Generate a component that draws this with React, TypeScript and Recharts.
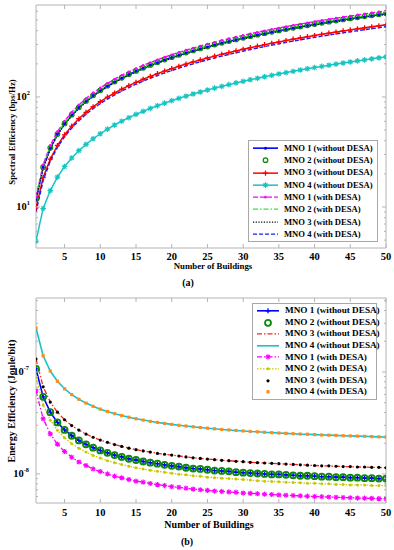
import React from 'react';
import { LineChart, Line, XAxis, YAxis, Legend, ReferenceArea } from 'recharts';

// ---------- data ----------
const buildings = [
  1, 2, 3, 4, 5, 6, 7, 8, 9, 10, 11, 12, 13, 14, 15, 16, 17, 18, 19, 20, 21, 22, 23, 24, 25,
  26, 27, 28, 29, 30, 31, 32, 33, 34, 35, 36, 37, 38, 39, 40, 41, 42, 43, 44, 45, 46, 47, 48, 49, 50,
];

// Spectral efficiency (bps/Hz)
const seMno1Without = [11.6, 23, 34, 46, 57, 68, 80, 91, 103, 114, 125, 137, 148, 160, 171, 182, 194, 205, 217, 228, 239, 251, 262, 274, 285, 296, 308, 319, 331, 342, 353, 365, 376, 388, 399, 410, 422, 433, 445, 456, 467, 479, 490, 502, 513, 524, 536, 547, 559, 570];
const seMno2Without = [11.8, 23, 34.5, 46, 57.5, 69, 80.5, 92, 103.5, 115, 126.5, 138, 149.5, 161, 172.5, 184, 195.5, 207, 218.5, 230, 241.5, 253, 264.5, 276, 287.5, 299, 310.5, 322, 333.5, 345, 356.5, 368, 379.5, 391, 402.5, 414, 425.5, 437, 448.5, 460, 471.5, 483, 494.5, 506, 517.5, 529, 540.5, 552, 563.5, 575];
const seMno3Without = [9.8, 18.5, 27.2, 36.2, 45.3, 54.3, 63.4, 72.4, 81.5, 90.5, 99.6, 108.6, 117.7, 126.7, 135.8, 144.8, 153.9, 162.9, 172, 181, 190, 199, 208, 217, 226, 235, 244, 253, 262, 271.5, 280.5, 289.5, 298.5, 307.5, 316.5, 326, 335, 344, 353, 362, 371, 380, 389, 398, 407, 416, 425, 434, 443, 452];
const seMno4Without = [4.9, 9.7, 14.1, 18.7, 23.3, 27.9, 32.5, 37.1, 41.7, 46.3, 51, 55.6, 60.2, 64.8, 69.4, 74, 78.7, 83.3, 87.9, 92.5, 97.2, 101.8, 106.4, 111, 115.7, 120.3, 124.9, 129.5, 134.2, 138.8, 143.4, 148, 152.6, 157.3, 161.9, 166.5, 171.1, 175.7, 180.4, 185, 189.6, 194.2, 198.9, 203.5, 208.1, 212.7, 217.3, 222, 226.6, 231.2];
const seMno1With = [12.3, 24.2, 36.3, 48.4, 60.5, 72.6, 84.7, 96.8, 108.9, 121, 133.1, 145.2, 157.3, 169.4, 181.5, 193.6, 205.7, 217.8, 229.9, 242, 254.1, 266.2, 278.3, 290.4, 302.5, 314.6, 326.7, 338.8, 350.9, 363, 375.1, 387.2, 399.3, 411.4, 423.5, 435.6, 447.7, 459.8, 471.9, 484, 496.1, 508.2, 520.3, 532.4, 544.5, 556.6, 568.7, 580.8, 592.9, 605];
const seMno2With = [11.9, 23.2, 34.8, 46.4, 58, 69.6, 81.2, 92.8, 104.4, 116, 127.6, 139.2, 150.8, 162.4, 174, 185.6, 197.2, 208.8, 220.4, 232, 243.6, 255.2, 266.8, 278.4, 290, 301.6, 313.2, 324.8, 336.4, 348, 359.6, 371.2, 382.8, 394.4, 406, 417.6, 429.2, 440.8, 452.4, 464, 475.6, 487.2, 498.8, 510.4, 522, 533.6, 545.2, 556.8, 568.4, 580];
const seMno3With = [11.6, 22.4, 33.6, 44.8, 56, 67.2, 78.4, 89.6, 100.8, 112, 123.2, 134.4, 145.6, 156.8, 168, 179.2, 190.4, 201.6, 212.8, 224, 235.2, 246.4, 257.6, 268.8, 280, 291.2, 302.4, 313.6, 324.8, 336, 347.2, 358.4, 369.6, 380.8, 392, 403.2, 414.4, 425.6, 436.8, 448, 459.2, 470.4, 481.6, 492.8, 504, 515.2, 526.4, 537.6, 548.8, 560];
const seMno4With = [9.0, 17.4, 26.1, 34.8, 43.5, 52.2, 60.9, 69.6, 78.3, 87, 95.7, 104.4, 113.1, 121.8, 130.5, 139.2, 147.9, 156.6, 165.3, 174, 182.7, 191.4, 200.1, 208.8, 217.5, 226.2, 234.9, 243.6, 252.3, 261, 269.7, 278.4, 287.1, 295.8, 304.5, 313.2, 321.9, 330.6, 339.3, 348, 356.7, 365.4, 374.1, 382.8, 391.5, 400.2, 408.9, 417.6, 426.3, 435];

// Energy efficiency (in units of 1e-9 Joule/bit)
const eeMno1Without = [107, 57, 40.3, 32, 27, 23.7, 21.3, 19.5, 18.1, 17, 16.1, 15.3, 14.7, 14.1, 13.7, 13.25, 12.9, 12.6, 12.3, 12, 11.8, 11.5, 11.3, 11.2, 11, 10.8, 10.7, 10.6, 10.4, 10.3, 10.2, 10.1, 10, 9.9, 9.9, 9.8, 9.7, 9.6, 9.6, 9.5, 9.4, 9.4, 9.3, 9.3, 9.2, 9.2, 9.1, 9.1, 9.0, 9.0];
const eeMno2Without = [107, 57, 40.3, 32, 27, 23.7, 21.3, 19.5, 18.1, 17, 16.1, 15.3, 14.7, 14.1, 13.7, 13.25, 12.9, 12.6, 12.3, 12, 11.8, 11.5, 11.3, 11.2, 11, 10.8, 10.7, 10.6, 10.4, 10.3, 10.2, 10.1, 10, 9.9, 9.9, 9.8, 9.7, 9.6, 9.6, 9.5, 9.4, 9.4, 9.3, 9.3, 9.2, 9.2, 9.1, 9.1, 9.0, 9.0];
const eeMno3Without = [134, 71.5, 50.7, 40.3, 34, 29.8, 26.9, 24.6, 22.9, 21.5, 20.4, 19.4, 18.6, 17.9, 17.3, 16.8, 16.4, 15.9, 15.6, 15.3, 15, 14.7, 14.4, 14.2, 14, 13.8, 13.6, 13.5, 13.3, 13.2, 13, 12.9, 12.8, 12.7, 12.6, 12.5, 12.4, 12.3, 12.2, 12.1, 12.0, 12.0, 11.9, 11.8, 11.8, 11.7, 11.7, 11.6, 11.6, 11.5];
const eeMno4Without = [270, 144, 102, 81, 68.4, 60, 54, 49.5, 46, 43.2, 40.9, 39, 37.4, 36, 34.8, 33.75, 32.8, 32, 31.3, 30.6, 30, 29.5, 29, 28.5, 28.1, 27.7, 27.3, 27, 26.7, 26.4, 26.1, 25.9, 25.6, 25.4, 25.2, 25, 24.8, 24.6, 24.5, 24.3, 24.1, 24, 23.9, 23.7, 23.6, 23.5, 23.4, 23.25, 23.1, 23];
const eeMno1With = [65, 34.8, 24.7, 19.6, 16.6, 14.6, 13.1, 12.1, 11.2, 10.55, 10, 9.5, 9.15, 8.8, 8.5, 8.3, 8.06, 7.86, 7.7, 7.5, 7.4, 7.25, 7.1, 7.0, 6.9, 6.8, 6.74, 6.66, 6.6, 6.5, 6.45, 6.4, 6.33, 6.28, 6.23, 6.18, 6.14, 6.1, 6.05, 6.0, 5.98, 5.94, 5.9, 5.87, 5.84, 5.8, 5.79, 5.76, 5.73, 5.71];
const eeMno2With = [89, 47.5, 33.7, 26.75, 22.6, 19.8, 17.9, 16.4, 15.2, 14.3, 13.5, 12.9, 12.4, 11.9, 11.5, 11.2, 10.9, 10.6, 10.4, 10.15, 9.95, 9.8, 9.6, 9.5, 9.3, 9.2, 9.1, 9.0, 8.9, 8.8, 8.7, 8.6, 8.5, 8.45, 8.4, 8.3, 8.25, 8.2, 8.1, 8.1, 8.0, 8.0, 7.9, 7.9, 7.8, 7.8, 7.8, 7.7, 7.7, 7.7];
const eeMno3With = [134, 71.5, 50.7, 40.3, 34, 29.8, 26.9, 24.6, 22.9, 21.5, 20.4, 19.4, 18.6, 17.9, 17.3, 16.8, 16.4, 15.9, 15.6, 15.3, 15, 14.7, 14.4, 14.2, 14, 13.8, 13.6, 13.5, 13.3, 13.2, 13, 12.9, 12.8, 12.7, 12.6, 12.5, 12.4, 12.3, 12.2, 12.1, 12.0, 12.0, 11.9, 11.8, 11.8, 11.7, 11.7, 11.6, 11.6, 11.5];
const eeMno4With = [270, 144, 102, 81, 68.4, 60, 54, 49.5, 46, 43.2, 40.9, 39, 37.4, 36, 34.8, 33.75, 32.8, 32, 31.3, 30.6, 30, 29.5, 29, 28.5, 28.1, 27.7, 27.3, 27, 26.7, 26.4, 26.1, 25.9, 25.6, 25.4, 25.2, 25, 24.8, 24.6, 24.5, 24.3, 24.1, 24, 23.9, 23.7, 23.6, 23.5, 23.4, 23.25, 23.1, 23];

const seriesNamesSE = ['MNO 1 (without DESA)', 'MNO 2 (without DESA)', 'MNO 3 (without DESA)', 'MNO 4 (without DESA)', 'MNO 1 (with DESA)', 'MNO 2 (with DESA)', 'MNO 3 (with DESA)', 'MNO 4 (with DESA)'];
const seriesNamesEE = seriesNamesSE;

const xTicks = [5, 10, 15, 20, 25, 30, 35, 40, 45, 50];
const seYTicks = [5, 6, 7, 8, 9, 10, 20, 30, 40, 50, 60, 70, 80, 90, 100, 200, 300, 400, 500, 600];
const seMajorTicks = [10, 100];
const seMajorExp = ['1', '2'];
const eeYTicks = [6, 7, 8, 9, 10, 20, 30, 40, 50, 60, 70, 80, 90, 100, 200, 300, 400, 500];
const eeMajorTicks = [10, 100];
const eeMajorExp = ['-8', '-7'];

const seDomain = [4.24, 685];
const eeDomain = [5.19, 531];

// ---------- styles ----------
const FONT = '"Liberation Serif", "Times New Roman", serif';
const AX = '#b4b4b4';

type MarkerKind = 'none' | 'dot' | 'circle' | 'plus' | 'star' | 'square';
interface SeriesStyle {
  color: string;
  width: number;
  dash?: string;
  marker: MarkerKind;
  msize: number;
  mstroke?: number;
}

const seStyles: SeriesStyle[] = [
  { color: '#0000ff', width: 1.6, marker: 'dot', msize: 1.5 },
  { color: '#0b8a0b', width: 0, marker: 'circle', msize: 2.3, mstroke: 1.2 },
  { color: '#ff0000', width: 1.5, marker: 'plus', msize: 2.6 },
  { color: '#17c4c4', width: 1.5, marker: 'star', msize: 2.8 },
  { color: '#ff00ff', width: 1.4, dash: '5 2', marker: 'dot', msize: 1.3 },
  { color: '#2ee82e', width: 1.4, dash: '5 2 1.5 2', marker: 'none', msize: 0 },
  { color: '#000000', width: 1.1, dash: '1.2 1.5', marker: 'none', msize: 0 },
  { color: '#1a1aff', width: 1.4, dash: '4 2', marker: 'none', msize: 0 },
];

const eeStyles: SeriesStyle[] = [
  { color: '#0000ff', width: 1.6, marker: 'plus', msize: 2.5 },
  { color: '#0b8a0b', width: 0, marker: 'circle', msize: 3, mstroke: 1.8 },
  { color: '#ff2020', width: 1.3, dash: '5 2 1.5 2', marker: 'none', msize: 0 },
  { color: '#17c4c4', width: 1.6, marker: 'none', msize: 0 },
  { color: '#ff00ff', width: 1.3, dash: '5 2 1.5 2', marker: 'star', msize: 2.6 },
  { color: '#c8c800', width: 1.3, dash: '1.5 1.5', marker: 'dot', msize: 1.5 },
  { color: '#000000', width: 0, marker: 'dot', msize: 1.6 },
  { color: '#ff8c1a', width: 0, marker: 'square', msize: 1.6 },
];

const seKeys = ['mno1Without', 'mno2Without', 'mno3Without', 'mno4Without', 'mno1With', 'mno2With', 'mno3With', 'mno4With'];

const seRows = buildings.map((x, i) => ({
  x,
  mno1Without: seMno1Without[i],
  mno2Without: seMno2Without[i],
  mno3Without: seMno3Without[i],
  mno4Without: seMno4Without[i],
  mno1With: seMno1With[i],
  mno2With: seMno2With[i],
  mno3With: seMno3With[i],
  mno4With: seMno4With[i],
}));

const eeRows = buildings.map((x, i) => ({
  x,
  mno1Without: eeMno1Without[i],
  mno2Without: eeMno2Without[i],
  mno3Without: eeMno3Without[i],
  mno4Without: eeMno4Without[i],
  mno1With: eeMno1With[i],
  mno2With: eeMno2With[i],
  mno3With: eeMno3With[i],
  mno4With: eeMno4With[i],
}));

// ---------- markers ----------
function Marker({ kind, cx, cy, color, size, sw }: { kind: MarkerKind; cx: number; cy: number; color: string; size: number; sw?: number }) {
  if (cx == null || cy == null || isNaN(cx) || isNaN(cy)) return null;
  const s = size;
  switch (kind) {
    case 'dot':
      return <circle cx={cx} cy={cy} r={s} fill={color} />;
    case 'circle':
      return <circle cx={cx} cy={cy} r={s} fill="none" stroke={color} strokeWidth={sw || 1.2} />;
    case 'plus':
      return <path d={`M${cx - s},${cy}H${cx + s}M${cx},${cy - s}V${cy + s}`} stroke={color} strokeWidth={1.3} fill="none" />;
    case 'star': {
      const d = s * 0.72;
      return (
        <path
          d={`M${cx - s},${cy}H${cx + s}M${cx},${cy - s}V${cy + s}M${cx - d},${cy - d}L${cx + d},${cy + d}M${cx - d},${cy + d}L${cx + d},${cy - d}`}
          stroke={color}
          strokeWidth={1.1}
          fill="none"
        />
      );
    }
    case 'square':
      return <rect x={cx - s} y={cy - s} width={2 * s} height={2 * s} fill={color} />;
    default:
      return null;
  }
}

// ---------- geometry ----------
interface Geom { left: number; right: number; top: number; bottom: number; }
const seGeom: Geom = { left: 36, right: 386, top: 5, bottom: 248 };
const eeGeom: Geom = { left: 36, right: 386, top: 8, bottom: 213 };

function makeXTick(g: Geom, labelY: number, fontSize: number) {
  return (props: any) => {
    const { x, payload } = props;
    return (
      <g>
        <line x1={x} x2={x} y1={g.bottom} y2={g.bottom - 4} stroke={AX} />
        <line x1={x} x2={x} y1={g.top} y2={g.top + 4} stroke={AX} />
        <text x={x} y={labelY} textAnchor="middle" dominantBaseline="central" fontFamily={FONT} fontWeight="bold" fontSize={fontSize} fill="#000">
          {payload.value}
        </text>
      </g>
    );
  };
}

function makeYTick(g: Geom, majors: number[], exps: string[], fontSize: number, labelRight: number) {
  return (props: any) => {
    const { y, payload } = props;
    const v = payload.value;
    const idx = majors.findIndex((m) => Math.abs(m - v) < 1e-9);
    const major = idx >= 0;
    const len = major ? 4 : 2;
    return (
      <g>
        <line x1={g.left} x2={g.left + len} y1={y} y2={y} stroke={AX} />
        <line x1={g.right} x2={g.right - len} y1={y} y2={y} stroke={AX} />
        {major && (
          <text x={labelRight} y={y} textAnchor="end" dominantBaseline="central" fontFamily={FONT} fontWeight="bold" fontSize={fontSize} fill="#000">
            10
            <tspan dy={-5} fontSize={fontSize * 0.6}>{exps[idx]}</tspan>
          </text>
        )}
      </g>
    );
  };
}

// ---------- legend ----------
function makeLegend(names: string[], styles: SeriesStyle[], rowH: number, fontSize: number, sampleW: number, textGap: number) {
  return () => (
    <div
      style={{
        border: '1px solid #a8a8a8',
        background: '#ffffff',
        padding: '1px 0',
        boxSizing: 'border-box',
      }}
    >
      {names.map((n, i) => {
        const st = styles[i];
        const mid = rowH / 2;
        return (
          <div key={n} style={{ display: 'flex', alignItems: 'center', height: rowH }}>
            <svg width={sampleW + 4} height={rowH} style={{ display: 'block', flex: 'none' }}>
              {st.width > 0 && (
                <line x1={4} x2={sampleW} y1={mid} y2={mid} stroke={st.color} strokeWidth={st.width} strokeDasharray={st.dash} />
              )}
              <Marker kind={st.marker} cx={(4 + sampleW) / 2} cy={mid} color={st.color} size={st.msize} sw={st.mstroke} />
            </svg>
            <span
              style={{
                fontFamily: FONT,
                fontWeight: 'bold',
                fontSize,
                whiteSpace: 'nowrap',
                marginLeft: textGap,
                color: '#000',
                lineHeight: 1,
              }}
            >
              {n}
            </span>
          </div>
        );
      })}
    </div>
  );
}

function renderLines(keys: string[], names: string[], styles: SeriesStyle[]) {
  return keys.map((k, i) => {
    const st = styles[i];
    return (
      <Line
        key={k}
        type="linear"
        dataKey={k}
        name={names[i]}
        stroke={st.width > 0 ? st.color : 'none'}
        strokeWidth={st.width}
        strokeDasharray={st.dash}
        isAnimationActive={false}
        activeDot={false}
        dot={
          st.marker === 'none'
            ? false
            : (p: any) => (
                <Marker key={`m-${k}-${p.index}`} kind={st.marker} cx={p.cx} cy={p.cy} color={st.color} size={st.msize} sw={st.mstroke} />
              )
        }
      />
    );
  });
}

export default function App() {
  return (
    <div style={{ position: 'absolute', left: 0, top: 0, width: 394, height: 550, background: '#fff' }}>
      <LineChart width={394} height={290} data={seRows} margin={{ top: 5, right: 8, bottom: 12, left: 6 }}>
        <ReferenceArea x1={1} x2={50} y1={seDomain[0]} y2={seDomain[1]} fill="none" stroke={AX} strokeWidth={1} />
        <XAxis
          dataKey="x"
          type="number"
          domain={[1, 50]}
          allowDataOverflow
          ticks={xTicks}
          interval={0}
          height={30}
          tickLine={false}
          axisLine={false}
          tick={makeXTick(seGeom, 256, 10.5)}
          label={{
            content: () => (
              <text x={213} y={266} textAnchor="middle" dominantBaseline="central" fontFamily={FONT} fontWeight="bold" fontSize={8.8} fill="#000">
                Number of Buildings
              </text>
            ),
          }}
        />
        <YAxis
          type="number"
          scale="log"
          domain={seDomain}
          allowDataOverflow
          ticks={seYTicks}
          interval={0}
          width={30}
          tickLine={false}
          axisLine={false}
          tick={makeYTick(seGeom, seMajorTicks, seMajorExp, 10.5, 30)}
          label={{
            content: () => (
              <text x={12} y={132} transform="rotate(-90 12 132)" textAnchor="middle" dominantBaseline="central" fontFamily={FONT} fontWeight="bold" fontSize={8.8} fill="#000">
                Spectral Efficiency (bps/Hz)
              </text>
            ),
          }}
        />
        {renderLines(seKeys, seriesNamesSE, seStyles)}
        <Legend
          layout="vertical"
          align="center"
          verticalAlign="middle"
          wrapperStyle={{ left: 248, top: 140, width: 130, height: 101 }}
          content={makeLegend(seriesNamesSE, seStyles, 12.3, 8.6, 29, 2)}
        />
      </LineChart>
      <LineChart width={394} height={260} data={eeRows} margin={{ top: 8, right: 8, bottom: 17, left: 6 }}>
        <ReferenceArea x1={1} x2={50} y1={eeDomain[0]} y2={eeDomain[1]} fill="none" stroke={AX} strokeWidth={1} />
        <XAxis
          dataKey="x"
          type="number"
          domain={[1, 50]}
          allowDataOverflow
          ticks={xTicks}
          interval={0}
          height={30}
          tickLine={false}
          axisLine={false}
          tick={makeXTick(eeGeom, 222, 10.5)}
          label={{
            content: () => (
              <text x={209} y={234} textAnchor="middle" dominantBaseline="central" fontFamily={FONT} fontWeight="bold" fontSize={10} fill="#000">
                Number of Buildings
              </text>
            ),
          }}
        />
        <YAxis
          type="number"
          scale="log"
          domain={eeDomain}
          allowDataOverflow
          ticks={eeYTicks}
          interval={0}
          width={30}
          tickLine={false}
          axisLine={false}
          tick={makeYTick(eeGeom, eeMajorTicks, eeMajorExp, 10.5, 29)}
          label={{
            content: () => (
              <text x={11} y={111} transform="rotate(-90 11 111)" textAnchor="middle" dominantBaseline="central" fontFamily={FONT} fontWeight="bold" fontSize={10} fill="#000">
                Energy Efficiency (Joule/bit)
              </text>
            ),
          }}
        />
        {renderLines(seKeys, seriesNamesEE, eeStyles)}
        <Legend
          layout="vertical"
          align="center"
          verticalAlign="middle"
          wrapperStyle={{ left: 252, top: 13, width: 125, height: 96 }}
          content={makeLegend(seriesNamesEE, eeStyles, 11.6, 9.2, 26, 2)}
        />
      </LineChart>
      <div style={{ position: 'absolute', left: 168, top: 276, width: 40, textAlign: 'center', fontFamily: FONT, fontWeight: 'bold', fontSize: 10, lineHeight: '14px' }}>
        (a)
      </div>
      <div style={{ position: 'absolute', left: 167, top: 535, width: 40, textAlign: 'center', fontFamily: FONT, fontWeight: 'bold', fontSize: 10, lineHeight: '14px' }}>
        (b)
      </div>
    </div>
  );
}
